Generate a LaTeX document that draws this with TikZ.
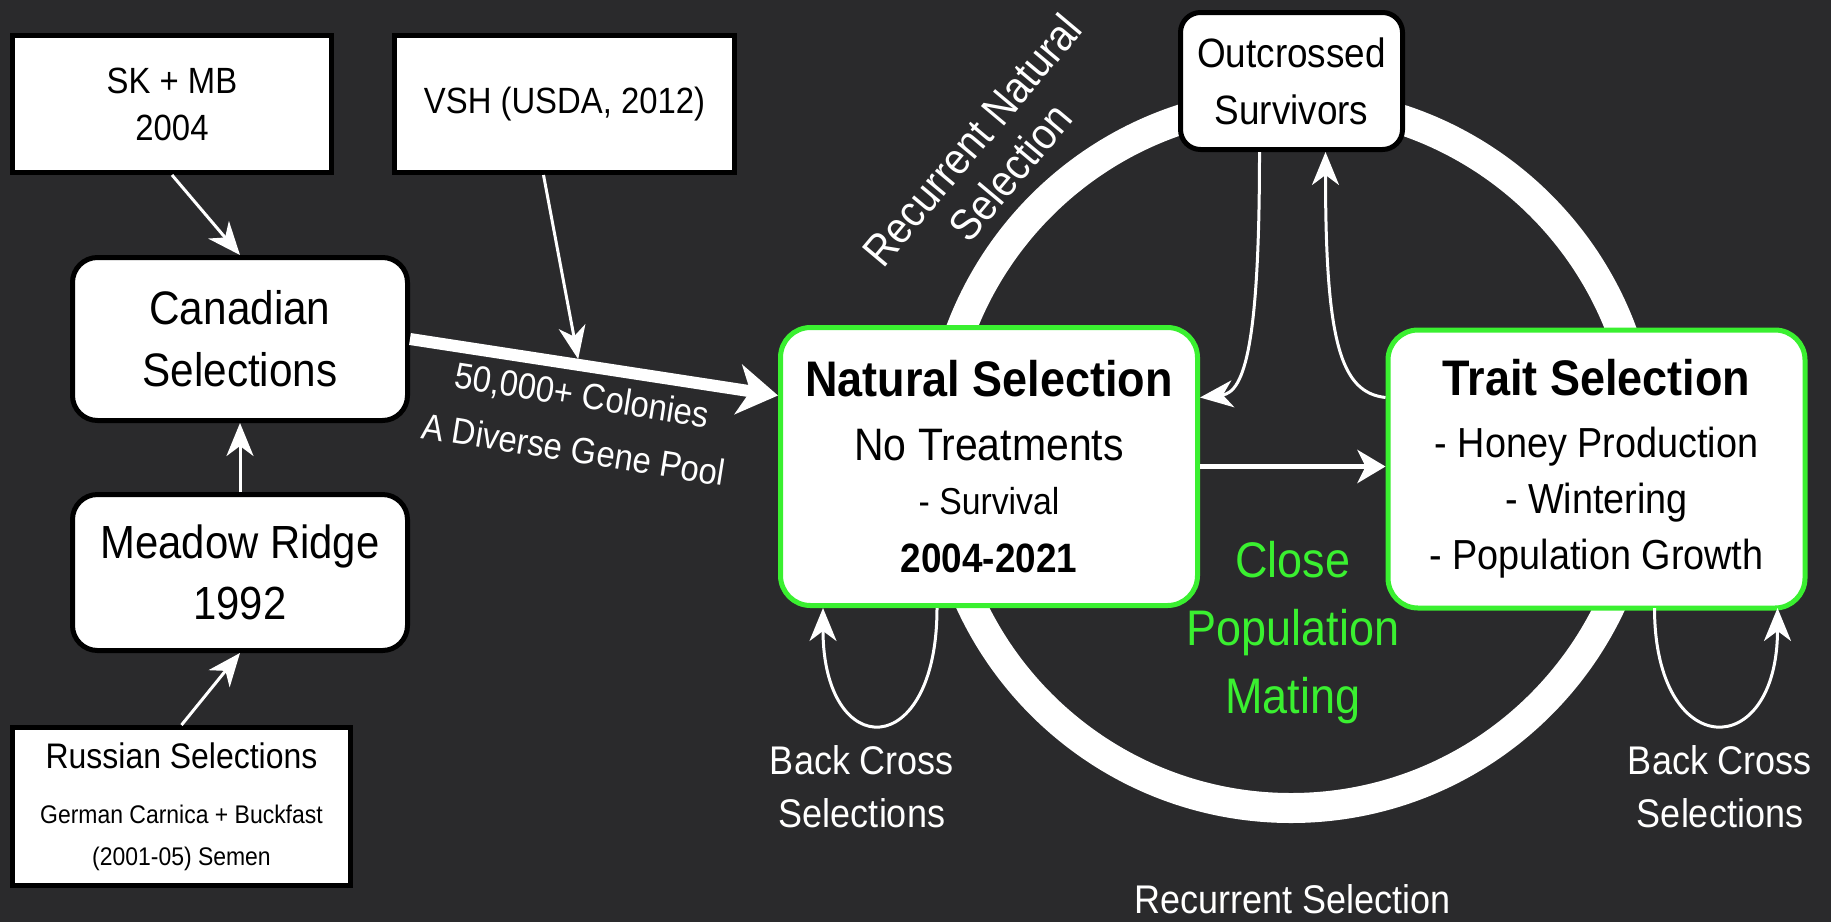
\documentclass[tikz,border=0pt]{standalone}
\usepackage{fontspec}
\setmainfont{Liberation Sans}[FakeStretch=0.9]
\usetikzlibrary{arrows.meta}

\definecolor{bgcol}{RGB}{42,42,44}
\definecolor{selgreen}{RGB}{58,240,48}

\begin{document}
\begin{tikzpicture}[x=1pt,y=-1pt]
    \fill[bgcol] (0,0) rectangle (1831,922);
    \useasboundingbox (0,0) rectangle (1831,922);

    % selection ring, behind the boxes
    \draw[white, line width=30pt] (1291,455) circle [radius=353pt];

    \begin{scope}[every node/.style={draw=black,line width=5pt,fill=white,align=center,text=black}]
        \node[minimum width=319pt, minimum height=137pt, font=\fontsize{36.5}{47}\selectfont] (SK_MB) at (172,104) {SK + MB\\2004};
        \node[minimum width=340pt, minimum height=137pt, font=\fontsize{36.5}{47}\selectfont] (VSH) at (564.5,104) {VSH (USDA, 2012)};

        \node[rounded corners=25pt, minimum width=335pt, minimum height=163pt, font=\fontsize{47}{62}\selectfont] (Can_S) at (240,339) {Canadian\\Selections};
        \node[rounded corners=25pt, minimum width=335pt, minimum height=156pt, font=\fontsize{46.5}{61}\selectfont] (Mea_R) at (240,572.5) {Meadow Ridge\\1992};

        \node[minimum width=338pt, minimum height=158pt, font=\fontsize{25.5}{42}\selectfont] (Rus_S) at (181.5,806.5)
            {{\fontsize{35.5}{42}\selectfont Russian Selections}\\[13pt]German Carnica + Buckfast\\(2001-05) Semen};

        \node[rounded corners=20pt, minimum width=222pt, minimum height=137pt, font=\fontsize{41}{57}\selectfont] (Out_S) at (1291.5,81) {Outcrossed\\Survivors};
    \end{scope}

    \begin{scope}[every node/.style={draw=selgreen,line width=5pt,fill=white,rounded corners=30pt,align=center,text=black,
                                    minimum width=417pt,minimum height=278pt,font=\fontsize{42}{56}\selectfont}]
        \node (Nat_S) at (989,466.5)
            {{\bfseries\fontsize{50}{56}\selectfont Natural Selection}\\[8pt]{\fontsize{45.5}{56}\selectfont No Treatments}\\[-2pt]{\fontsize{37.5}{56}\selectfont - Survival}\\[2pt]{\bfseries\fontsize{41}{56}\selectfont 2004-2021}};
        \node (Tra_S) at (1596.5,469)
            {{\bfseries\fontsize{50}{56}\selectfont Trait Selection}\\[6pt]- Honey Production\\- Wintering\\- Population Growth};
    \end{scope}

    \begin{scope}[every node/.style={text=white,align=center,font=\fontsize{40}{53}\selectfont}]
        \node[rotate=-9, font=\fontsize{36.5}{55}\selectfont] (G_L) at (578,422) {50,000+ Colonies\\A Diverse Gene Pool};
        \node[rotate=50, font=\fontsize{44}{50}\selectfont] (R_N) at (991,156) {Recurrent Natural\\Selection};
        \node (B_1) at (862,787) {Back Cross\\Selections};
        \node (B_2) at (1720,787) {Back Cross\\Selections};
        \node (R_S) at (1293,899) {Recurrent Selection};
        \node[text=selgreen, font=\fontsize{50}{68}\selectfont] (C_P) at (1293,633) {Close\\Population\\Mating};
    \end{scope}

    % gene pool arrow, 50,000+ colonies
    \draw[white, line width=12pt, -{Stealth[length=40pt,width=50pt,inset=12pt]}]
        (Can_S.east) -- coordinate[pos=0.46] (G_P) ([yshift=71pt]Nat_S.west);

    \begin{scope}[thinarr/.style={draw=white,line width=3pt,-{Stealth[length=33pt,width=27pt,inset=10pt]}},
                  every edge/.style={thinarr}]
        \path (SK_MB.south) edge (Can_S.north);
        \path (Mea_R.north) edge (Can_S.south);
        \path (Rus_S.north) edge (Mea_R.south);
        \path ([xshift=-21pt]VSH.south) edge[shorten >=6pt] (G_P);

        \path (Nat_S) edge[line width=5pt, -{Stealth[length=28pt,width=33pt,inset=8pt]}] (Nat_S -| Tra_S.west);

        \draw[thinarr] ([xshift=-32pt]Out_S.south) .. controls +(0,190) and +(45,-5) .. ([yshift=69pt]Nat_S.east);
        \draw[thinarr] ([yshift=69pt]Nat_S.east -| Tra_S.west) .. controls +(-45,-5) and +(0,190) .. ([xshift=34pt]Out_S.south);

        % back cross loops
        \draw[thinarr] ([xshift=-52pt]Nat_S.south) .. controls +(0,155) and +(0,155) .. ([xshift=-166pt]Nat_S.south);
        \draw[thinarr] ([xshift=58pt]Nat_S.south -| Tra_S.south) .. controls +(0,155) and +(0,155) .. ([xshift=181pt]Nat_S.south -| Tra_S.south);
    \end{scope}
\end{tikzpicture}
\end{document}
